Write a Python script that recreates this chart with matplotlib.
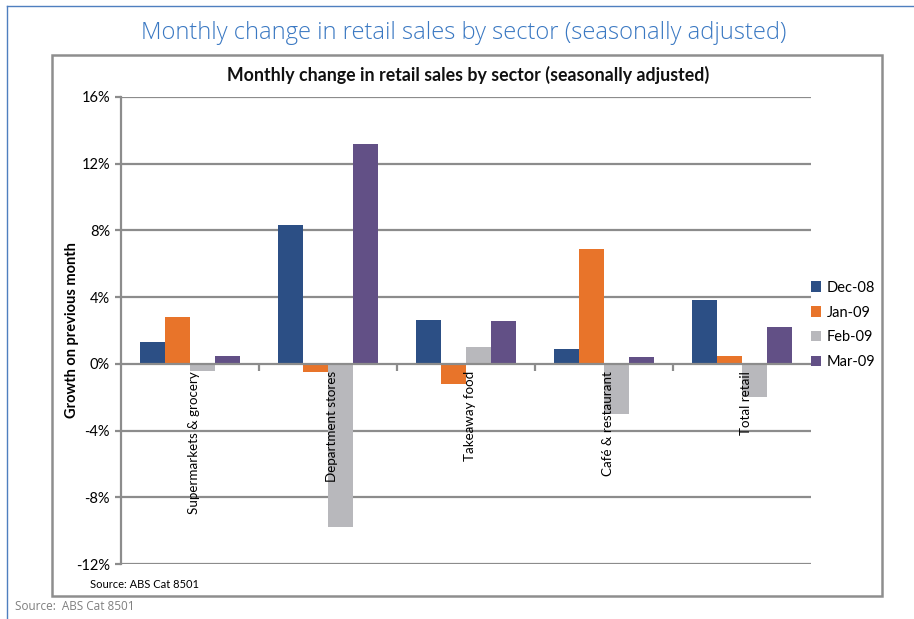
import matplotlib
matplotlib.use("Agg")
import matplotlib.pyplot as plt
import numpy as np
from matplotlib.patches import Rectangle
from matplotlib.lines import Line2D
from matplotlib.transforms import ScaledTranslation

sectors = ["Supermarkets & grocery", "Department stores", "Takeaway food",
           "Café & restaurant", "Total retail"]
months = ["Dec-08", "Jan-09", "Feb-09", "Mar-09"]
dec_08 = [1.3, 8.3, 2.6, 0.9, 3.8]
jan_09 = [2.8, -0.5, -1.2, 6.9, 0.45]
feb_09 = [-0.4, -9.8, 1.0, -3.0, -2.0]
mar_09 = [0.5, 13.2, 2.55, 0.4, 2.2]
y_ticks = [-12, -8, -4, 0, 4, 8, 12, 16]

colors = ["#2C4F85", "#E8742A", "#B8B8BC", "#625086"]
grid_color = "#8C8C8C"

plt.rcParams["font.family"] = ["Lato", "DejaVu Sans"]

W, H = 914, 619
fig = plt.figure(figsize=(W / 100, H / 100), dpi=100)


def fx(px):
    return px / W


def fy(py):
    return 1 - py / H


# outer frame lines (top and left)
fig.add_artist(Line2D([fx(7), 1], [fy(6), fy(6)], color="#4F7FBF", lw=1))
fig.add_artist(Line2D([fx(7), fx(7)], [fy(6), 0], color="#4F7FBF", lw=1))

# chart box
fig.add_artist(Rectangle((fx(52), fy(596)), fx(882) - fx(52), fy(55) - fy(596),
                         transform=fig.transFigure, fill=False,
                         edgecolor="#8E8E8E", lw=1.8))

fig.text(fx(464), fy(33), "Monthly change in retail sales by sector (seasonally adjusted)",
         ha="center", va="center", fontsize=17.1, color="#3A78C2",
         family=["Open Sans", "DejaVu Sans"], fontweight="light")
fig.text(fx(468), fy(75), "Monthly change in retail sales by sector (seasonally adjusted)",
         ha="center", va="center", fontsize=12.8, fontweight="bold", color="#111111")

ax = fig.add_axes([fx(121), fy(564), fx(811) - fx(121), fy(97) - fy(564)])
ax.set_axisbelow(False)

x = np.arange(len(sectors))
width = 0.18
series = [dec_08, jan_09, feb_09, mar_09]
for i, (label, vals) in enumerate(zip(months, series)):
    ax.bar(x + (i - 1.5) * width, vals, width, color=colors[i], label=label, zorder=1.5)

ax.set_xlim(-0.5, len(sectors) - 0.5)
ax.set_ylim(-12, 16)
ax.set_yticks(y_ticks)
ax.set_yticklabels([f"{t}%" for t in y_ticks], fontsize=10.5)
for t in y_ticks:
    if t != 0:
        ax.axhline(t, color=grid_color, lw=1.6, zorder=1)

ax.spines["top"].set_visible(False)
ax.spines["right"].set_visible(False)
ax.spines["left"].set_color(grid_color)
ax.spines["left"].set_linewidth(1.6)
ax.spines["bottom"].set_position(("data", 0))
ax.spines["bottom"].set_color(grid_color)
ax.spines["bottom"].set_linewidth(1.6)
ax.spines["bottom"].set_zorder(4)
ax.tick_params(axis="y", length=4, color=grid_color, width=1.6, pad=4)

ax.set_xticks(np.arange(0.5, len(sectors) - 0.5, 1))
ax.set_xticklabels([])
ax.tick_params(axis="x", which="major", direction="out", length=5, color=grid_color, width=1.6)
ax.set_xticks(x, minor=True)
ax.set_xticklabels(sectors, minor=True, rotation=90, fontsize=9.6, va="top", ha="center")
ax.tick_params(axis="x", which="minor", length=0, pad=5)
shift = ScaledTranslation(3 / 72, 0, fig.dpi_scale_trans)
for lbl in ax.get_xticklabels(minor=True):
    lbl.set_transform(lbl.get_transform() + shift)

ax.set_ylabel("Growth on previous month", fontsize=10.5, fontweight="bold", labelpad=-2)

fig.legend(loc="center left", bbox_to_anchor=(fx(805), fy(325)), frameon=False,
           fontsize=10.5, handlelength=0.7, handleheight=0.7, handletextpad=0.4,
           labelspacing=0.75, borderaxespad=0)

fig.text(fx(90), fy(585), "Source: ABS Cat 8501", ha="left", va="center", fontsize=8)
fig.text(fx(15), fy(607), "Source:  ABS Cat 8501", ha="left", va="center", fontsize=8.5,
         color="#7F7F7F", family=["Open Sans", "DejaVu Sans"])

fig.savefig("out.png", dpi=100)
